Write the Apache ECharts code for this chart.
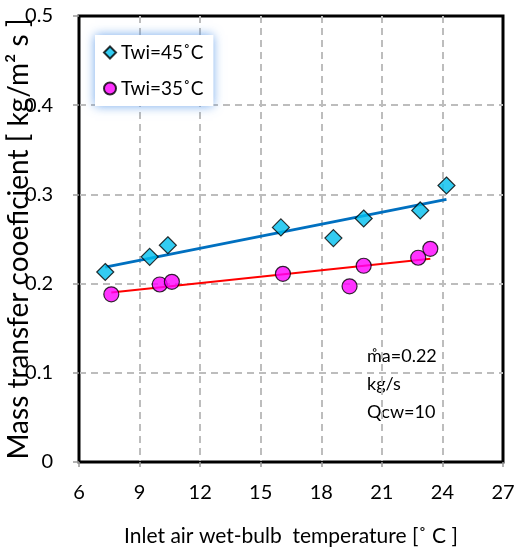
<!DOCTYPE html>
<html>
<head>
<meta charset="utf-8">
<script src="https://cdn.jsdelivr.net/npm/echarts@6/dist/echarts.min.js"></script>
<style>html,body{margin:0;padding:0;background:#fff;}#c{width:516px;height:552px;}</style>
</head>
<body>
<div id="c"></div>
<script>
// Data
const twi45X = [7.3, 9.5, 10.4, 16.0, 18.6, 20.1, 22.9, 24.2];
const twi45Y = [0.213, 0.230, 0.243, 0.263, 0.251, 0.273, 0.282, 0.310];
const twi35X = [7.6, 10.0, 10.6, 16.1, 19.4, 20.1, 22.8, 23.4];
const twi35Y = [0.188, 0.199, 0.202, 0.211, 0.197, 0.220, 0.229, 0.239];
const xTicks = [6, 9, 12, 15, 18, 21, 24, 27];
const yTicks = [0, 0.1, 0.2, 0.3, 0.4, 0.5];
const seriesNames = ['Twi=45˚C', 'Twi=35˚C'];
const noteLines = ['m̊a=0.22', 'kg/s', 'Qcw=10'];

function pairs(xs, ys) { return xs.map((x, i) => [x, ys[i]]); }
function trend(xs, ys) {
  const n = xs.length;
  const mx = xs.reduce((a, b) => a + b, 0) / n;
  const my = ys.reduce((a, b) => a + b, 0) / n;
  let sxy = 0, sxx = 0;
  for (let i = 0; i < n; i++) { sxy += (xs[i] - mx) * (ys[i] - my); sxx += (xs[i] - mx) ** 2; }
  const b = sxy / sxx, a = my - b * mx;
  const x0 = Math.min(...xs), x1 = Math.max(...xs);
  return [[x0, a + b * x0], [x1, a + b * x1]];
}

const FONT = 'Lato';
const chart = echarts.init(document.getElementById('c'));
chart.setOption({
  animation: false,
  textStyle: { fontFamily: FONT },
  grid: { left: 79, right: 13, top: 16, bottom: 90, show: true, borderColor: '#000', borderWidth: 3,
          containLabel: false, outerBoundsMode: 'none' },
  legend: {
    orient: 'vertical', left: 95, top: 35,
    data: seriesNames,
    itemWidth: 12, itemHeight: 12, itemGap: 17,
    padding: [8, 10, 8, 8],
    backgroundColor: '#fff',
    shadowColor: 'rgba(70,140,230,0.75)', shadowBlur: 10,
    textStyle: { fontFamily: FONT, fontSize: 19, color: '#000' }
  },
  xAxis: {
    type: 'value', min: 6, max: 27, interval: 3,
    name: 'Inlet air wet-bulb  temperature [˚ C ]',
    nameLocation: 'middle', nameGap: 64, nameMoveOverlap: false,
    nameTextStyle: { fontFamily: FONT, fontSize: 21, color: '#000' },
    axisLine: { show: true, lineStyle: { color: '#000', width: 2 } },
    axisTick: { show: true, inside: false, length: 5, lineStyle: { color: '#999', width: 1.5 } },
    axisLabel: { fontSize: 20, color: '#000', margin: 21, formatter: v => xTicks.includes(v) ? String(v) : '' },
    splitLine: { show: true, showMinLine: false, showMaxLine: false, lineStyle: { color: '#bdbdbd', width: 2, type: [7, 5] } }
  },
  yAxis: {
    type: 'value', min: 0, max: 0.5, interval: 0.1,
    name: 'Mass transfer cooeficient [ kg/m² s ]',
    nameLocation: 'middle', nameGap: 46, nameRotate: 90, nameMoveOverlap: false,
    nameTextStyle: { fontFamily: FONT, fontSize: 28, color: '#000' },
    axisLine: { show: true, lineStyle: { color: '#000', width: 2 } },
    axisTick: { show: true, inside: false, length: 6, lineStyle: { color: '#999', width: 1.5 } },
    axisLabel: { fontSize: 20, color: '#000', margin: 26, align: 'right', verticalAlign: 'middle',
      formatter: v => { const t = yTicks.find(k => Math.abs(k - v) < 1e-9); return t === undefined ? '' : String(t); } },
    splitLine: { show: true, showMinLine: false, showMaxLine: false, lineStyle: { color: '#bdbdbd', width: 2, type: [7, 5] } }
  },
  graphic: [{
    type: 'group', left: 367, top: 347,
    children: noteLines.map((t, i) => ({
      type: 'text', left: 0, top: i * 28,
      style: { text: t, fontFamily: FONT, fontSize: 18, fill: '#000' }
    }))
  }],
  series: [
    { name: 'trend45', type: 'line', data: trend(twi45X, twi45Y), symbol: 'none', lineStyle: { color: '#0070C0', width: 3 }, z: 2, silent: true },
    { name: 'trend35', type: 'line', data: trend(twi35X, twi35Y), symbol: 'none', lineStyle: { color: '#FF0000', width: 2 }, z: 2, silent: true },
    { name: seriesNames[0], type: 'scatter', data: pairs(twi45X, twi45Y), symbol: 'diamond', symbolSize: 17,
      itemStyle: { color: '#00BFEF', borderColor: '#000', borderWidth: 1.2 }, z: 3 },
    { name: seriesNames[1], type: 'scatter', data: pairs(twi35X, twi35Y), symbol: 'circle', symbolSize: 15,
      itemStyle: { color: '#FF00FF', borderColor: '#000', borderWidth: 1.2 }, z: 3 }
  ]
});
</script>
</body>
</html>
